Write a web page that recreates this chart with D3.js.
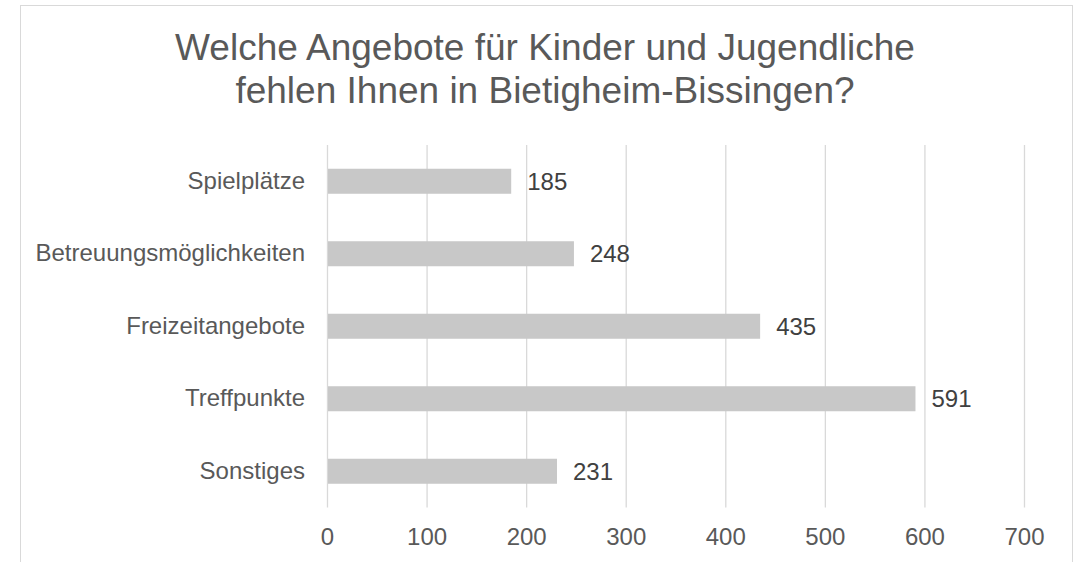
<!DOCTYPE html>
<html>
<head>
<meta charset="utf-8">
<script src="https://cdn.jsdelivr.net/npm/d3@7/dist/d3.min.js"></script>
<style>
  body { margin: 0; background: #fff; }
  svg { display: block; font-family: "Liberation Sans", Arial, sans-serif; }
</style>
</head>
<body>
<div id="chart"></div>
<script>
const titleLines = ["Welche Angebote für Kinder und Jugendliche", "fehlen Ihnen in Bietigheim-Bissingen?"];
const categories = ["Spielplätze", "Betreuungsmöglichkeiten", "Freizeitangebote", "Treffpunkte", "Sonstiges"];
const values = [185, 248, 435, 591, 231];
const xTicks = [0, 100, 200, 300, 400, 500, 600, 700];

const W = 1083, H = 562;
const margin = { top: 145, right: 59, bottom: 55, left: 327 };
const width = W - margin.left - margin.right;
const height = 507.5 - margin.top;

const svg = d3.select("#chart").append("svg")
  .attr("width", W)
  .attr("height", H);

// chart frame
svg.append("rect")
  .attr("x", 20.5).attr("y", 5.5)
  .attr("width", 1052).attr("height", 600)
  .attr("fill", "#fff")
  .attr("stroke", "#d9d9d9");

// title
svg.append("g").selectAll("text")
  .data(titleLines)
  .join("text")
  .attr("x", 545)
  .attr("y", (d, i) => 60 + i * 43)
  .attr("text-anchor", "middle")
  .attr("font-size", 37)
  .attr("fill", "#595959")
  .text(d => d);

const g = svg.append("g").attr("transform", `translate(${margin.left},${margin.top})`);

const x = d3.scaleLinear().domain([0, 700]).range([0, width]);
const y = d3.scaleBand().domain(categories).range([0, height]).paddingInner(0.655).paddingOuter(0.3275);

// gridlines
g.append("g").selectAll("line")
  .data(xTicks)
  .join("line")
  .attr("x1", d => x(d) + 0.5).attr("x2", d => x(d) + 0.5)
  .attr("y1", 0).attr("y2", height)
  .attr("stroke", "#d9d9d9")
  .attr("stroke-width", 1.3);

// x axis labels
const xAxis = g.append("g")
  .attr("transform", `translate(0,${height})`)
  .call(d3.axisBottom(x).tickValues(xTicks).tickSize(0).tickPadding(20));
xAxis.select(".domain").remove();
xAxis.selectAll("text")
  .attr("font-size", 24)
  .attr("font-family", "Liberation Sans, Arial, sans-serif")
  .attr("fill", "#595959");

// y axis labels
const yAxis = g.append("g")
  .call(d3.axisLeft(y).tickSize(0).tickPadding(22));
yAxis.select(".domain").remove();
yAxis.selectAll("text")
  .attr("font-size", 24)
  .attr("font-family", "Liberation Sans, Arial, sans-serif")
  .attr("fill", "#595959");

// bars
g.selectAll("rect.bar")
  .data(values)
  .join("rect")
  .attr("class", "bar")
  .attr("x", x(0) + 1)
  .attr("y", (d, i) => y(categories[i]))
  .attr("width", d => x(d) - x(0) - 1)
  .attr("height", y.bandwidth())
  .attr("fill", "#c8c8c8");

// value labels
g.selectAll("text.val")
  .data(values)
  .join("text")
  .attr("class", "val")
  .attr("x", d => x(d) + 16)
  .attr("y", (d, i) => y(categories[i]) + y.bandwidth() / 2)
  .attr("dy", "0.36em")
  .attr("font-size", 24)
  .attr("fill", "#404040")
  .text(d => d);
</script>
</body>
</html>
